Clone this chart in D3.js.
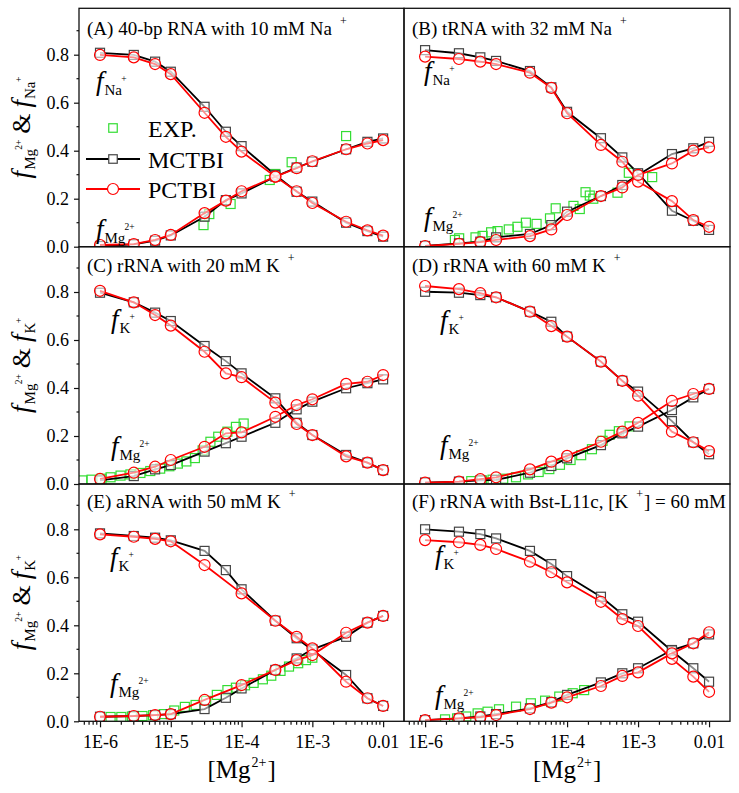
<!DOCTYPE html>
<html><head><meta charset="utf-8">
<script src="https://cdn.jsdelivr.net/npm/d3@7"></script>
<style>
body{margin:0;background:#fff}
svg{display:block}
text{font-family:"Liberation Serif","Times New Roman",serif;fill:#000}
</style>
</head><body>
<svg id="chart" width="739" height="793"></svg>
<script>
// ---------- DATA ----------
const concentrations = [1e-6, 3e-6, 6e-6, 1e-5, 3e-5, 6e-5, 1e-4, 3e-4, 6e-4, 1e-3, 3e-3, 6e-3, 1e-2];
const xTickValues = [1e-6, 1e-5, 1e-4, 1e-3, 1e-2];
const xTickLabels = ["1E-6", "1E-5", "1E-4", "1E-3", "0.01"];
const yTickValues = [0, 0.2, 0.4, 0.6, 0.8];
const yTickLabels = ["0.0", "0.2", "0.4", "0.6", "0.8"];
const seriesNames = ["EXP.", "MCTBI", "PCTBI"];

// (A) 40-bp RNA, 10 mM Na+
const aMonoMCTBI = [0.808,0.799,0.771,0.729,0.583,0.479,0.419,0.299,0.229,0.188,0.100,0.065,0.042];
const aMonoPCTBI = [0.799,0.789,0.761,0.719,0.558,0.458,0.396,0.292,0.231,0.182,0.104,0.068,0.046];
const aMgMCTBI   = [0.003,0.010,0.025,0.047,0.125,0.194,0.222,0.292,0.330,0.354,0.406,0.437,0.451];
const aMgPCTBI   = [0.007,0.011,0.028,0.049,0.140,0.192,0.231,0.292,0.327,0.356,0.406,0.430,0.444];
const aExpX = [2.9e-5,3.5e-5,7e-5,2.5e-4,3e-4,5.1e-4,3e-3];
const aExpY = [0.090,0.136,0.178,0.278,0.303,0.352,0.461];

// (B) tRNA, 32 mM Na+
const bMonoMCTBI = [0.819,0.806,0.789,0.774,0.732,0.664,0.562,0.452,0.372,0.306,0.150,0.108,0.070];
const bMonoPCTBI = [0.792,0.782,0.771,0.761,0.725,0.662,0.556,0.424,0.354,0.271,0.190,0.111,0.083];
const bMgMCTBI   = [0.003,0.014,0.021,0.039,0.053,0.090,0.146,0.211,0.257,0.299,0.386,0.410,0.437];
const bMgPCTBI   = [0.003,0.012,0.019,0.028,0.044,0.072,0.132,0.211,0.247,0.299,0.347,0.400,0.414];
const bExpX = [2.63e-6,3.02e-6,5.13e-6,6.46e-6,8.51e-6,1.05e-5,1.51e-5,2.0e-5,2.63e-5,3.72e-5,5.75e-5,6.92e-5,1.23e-4,1.51e-4,1.82e-4,2.09e-4,2.34e-4,5.13e-4,7.41e-4,1.58e-3];
const bExpY = [0.028,0.035,0.039,0.045,0.060,0.065,0.072,0.083,0.100,0.095,0.118,0.160,0.170,0.157,0.227,0.213,0.200,0.225,0.308,0.290];

// (C) rRNA, 20 mM K+
const cMonoMCTBI = [0.797,0.757,0.714,0.679,0.575,0.512,0.461,0.357,0.255,0.204,0.121,0.089,0.058];
const cMonoPCTBI = [0.805,0.757,0.704,0.660,0.551,0.461,0.445,0.339,0.250,0.204,0.115,0.089,0.058];
const cMgMCTBI   = [0.015,0.033,0.061,0.079,0.135,0.170,0.197,0.255,0.311,0.343,0.399,0.420,0.436];
const cMgPCTBI   = [0.021,0.047,0.072,0.100,0.155,0.211,0.215,0.280,0.329,0.353,0.417,0.426,0.454];
const cExpX = [5.62e-7,7.59e-7,1.05e-6,1.41e-6,1.95e-6,2.69e-6,3.72e-6,5.13e-6,7.08e-6,9.55e-6,1.26e-5,1.66e-5,2.19e-5,2.82e-5,3.63e-5,4.68e-5,6.31e-5,8.32e-5,1.07e-4];
const cExpY = [0.015,0.018,0.022,0.028,0.035,0.040,0.046,0.054,0.064,0.074,0.085,0.094,0.108,0.140,0.176,0.197,0.218,0.238,0.252];

// (D) rRNA, 60 mM K+
const dMonoMCTBI = [0.801,0.797,0.787,0.778,0.718,0.676,0.614,0.510,0.430,0.385,0.262,0.174,0.124];
const dMonoPCTBI = [0.825,0.812,0.795,0.778,0.718,0.658,0.614,0.510,0.430,0.368,0.218,0.174,0.137];
const dMgMCTBI   = [0.006,0.010,0.015,0.017,0.047,0.075,0.107,0.162,0.211,0.239,0.308,0.361,0.396];
const dMgPCTBI   = [0.006,0.010,0.020,0.028,0.061,0.093,0.117,0.176,0.218,0.255,0.346,0.375,0.396];
const dExpX = [4.47e-6,6.31e-6,8.91e-6,1.26e-5,1.91e-5,2.82e-5,3.98e-5,5.62e-5,7.94e-5,1.12e-4,1.58e-4,2.24e-4,3.16e-4,3.98e-4,5.37e-4,7.59e-4];
const dExpY = [0.012,0.015,0.018,0.022,0.028,0.040,0.050,0.062,0.080,0.100,0.120,0.145,0.180,0.205,0.220,0.240];

// (E) aRNA, 50 mM K+
const eMonoMCTBI = [0.783,0.772,0.765,0.754,0.710,0.630,0.550,0.419,0.346,0.297,0.193,0.096,0.064];
const eMonoPCTBI = [0.779,0.769,0.760,0.750,0.651,null,0.533,0.419,0.352,0.304,0.165,0.096,0.064];
const eMgMCTBI   = [0.019,0.022,0.026,0.030,0.051,0.098,0.137,0.214,0.262,0.300,0.352,0.411,0.439];
const eMgPCTBI   = [0.019,0.022,0.026,0.030,0.089,null,0.151,0.214,0.255,0.276,0.369,0.411,0.439];
const eExpX = [1.41e-6,2.0e-6,2.82e-6,3.98e-6,5.62e-6,7.94e-6,1.12e-5,1.58e-5,2.24e-5,3.16e-5,4.47e-5,6.31e-5,8.32e-5,1.12e-4,1.48e-4,2.0e-4,2.63e-4,3.55e-4,4.68e-4,6.31e-4,8.13e-4,1.0e-3];
const eExpY = [0.018,0.018,0.020,0.022,0.025,0.030,0.045,0.060,0.068,0.085,0.110,0.130,0.140,0.150,0.160,0.175,0.190,0.210,0.228,0.242,0.255,0.265];

// (F) rRNA with Bst-L11c, 60 mM K+
const fMonoMCTBI = [0.800,0.790,0.780,0.762,0.710,0.655,0.605,0.519,0.446,0.415,0.293,0.221,0.165];
const fMonoPCTBI = [0.755,0.746,0.735,0.718,0.665,0.621,0.579,0.498,0.426,0.397,0.260,0.186,0.123];
const fMgMCTBI   = [0.005,0.012,0.020,0.030,0.054,0.080,0.110,0.162,0.200,0.221,0.297,0.325,0.362];
const fMgPCTBI   = [0.005,0.012,0.017,0.026,0.051,0.078,0.100,0.147,0.189,0.204,0.283,0.325,0.371];
const fExpX = [1.91e-6,2.82e-6,3.8e-6,5.5e-6,7.59e-6,1.1e-5,1.91e-5,3.09e-5,4.9e-5,7.76e-5,1.2e-4,1.74e-4];
const fExpY = [0.008,0.012,0.020,0.033,0.040,0.050,0.061,0.075,0.086,0.103,0.117,0.130];

// ---------- LAYOUT ----------
const colX = [[79, 404], [404, 730]];
const rowY = [[8.3, 246.7], [246.7, 484], [484, 721.3]];
const pxPerUnit = 240;
const xDomain = [Math.pow(10, -6.297), Math.pow(10, -1.705)];

const panels = [
  {col:0,row:0,title:["(A) 40-bp RNA with 10 mM Na","+",""],ion:"Na",
   mM:aMonoMCTBI,mP:aMonoPCTBI,gM:aMgMCTBI,gP:aMgPCTBI,ex:aExpX,ey:aExpY,
   monoLab:[96,90],mgLab:[96,238],legend:true},
  {col:1,row:0,title:["(B) tRNA with 32 mM Na","+",""],ion:"Na",
   mM:bMonoMCTBI,mP:bMonoPCTBI,gM:bMgMCTBI,gP:bMgPCTBI,ex:bExpX,ey:bExpY,
   monoLab:[424,80],mgLab:[424,226]},
  {col:0,row:1,title:["(C) rRNA with 20 mM K","+",""],ion:"K",
   mM:cMonoMCTBI,mP:cMonoPCTBI,gM:cMgMCTBI,gP:cMgPCTBI,ex:cExpX,ey:cExpY,
   monoLab:[111,328],mgLab:[111,455]},
  {col:1,row:1,title:["(D) rRNA with 60 mM K","+",""],ion:"K",
   mM:dMonoMCTBI,mP:dMonoPCTBI,gM:dMgMCTBI,gP:dMgPCTBI,ex:dExpX,ey:dExpY,
   monoLab:[440,329],mgLab:[440,454]},
  {col:0,row:2,title:["(E) aRNA with 50 mM K","+",""],ion:"K",
   mM:eMonoMCTBI,mP:eMonoPCTBI,gM:eMgMCTBI,gP:eMgPCTBI,ex:eExpX,ey:eExpY,
   monoLab:[110,566],mgLab:[110,692]},
  {col:1,row:2,title:["(F) rRNA with Bst-L11c, [K","+","] = 60 mM"],ion:"K",
   mM:fMonoMCTBI,mP:fMonoPCTBI,gM:fMgMCTBI,gP:fMgPCTBI,ex:fExpX,ey:fExpY,
   monoLab:[435,564],mgLab:[435,704]}
];

const svg = d3.select("#chart");
const titleBase = [34.5, 272, 507.5];
const COL_BLACK = "#000", COL_SQ = "#444", COL_RED = "#ff0000", COL_GREEN = "#33dd33";

// rich text made of separately positioned pieces
function richText(g, x, y, parts, anchor) {
  const grp = g.append("g");
  let cx = 0;
  parts.forEach(p => {
    cx += (p.gap || 0);
    const t = grp.append("text").attr("x", cx).attr("y", p.dy || 0)
      .style("font-size", p.size + "px").style("font-style", p.italic ? "italic" : "normal")
      .text(p.t);
    cx += t.node().getComputedTextLength();
  });
  const shift = anchor === "middle" ? -cx / 2 : 0;
  grp.attr("transform", `translate(${x + shift},${y})`);
  return grp;
}

function fLabel(g, x, y, sub, sup) {
  richText(g, x, y, [
    {t: "f", size: 27, italic: true},
    {t: sub, size: 15, dy: 5, gap: 1},
    {t: sup, size: 9.5, dy: -8, gap: -0.8}
  ]);
}

function drawSquare(sel, x, y, s, stroke, fill) {
  sel.append("rect").attr("x", x - s/2).attr("y", y - s/2).attr("width", s).attr("height", s)
    .attr("fill", fill).attr("stroke", stroke).attr("stroke-width", 1.2);
}

panels.forEach((p, pi) => {
  const [x0, x1] = colX[p.col];
  const [y0, y1] = rowY[p.row];
  const x = d3.scaleLog().domain(xDomain).range([x0, x1]);
  const y = d3.scaleLinear().domain([0, (y1 - y0) / pxPerUnit]).range([y1, y0]);
  const g = svg.append("g");

  const clipId = "clip" + pi;
  svg.append("clipPath").attr("id", clipId).append("rect")
    .attr("x", x0).attr("y", y0).attr("width", x1 - x0).attr("height", y1 - y0);
  const plot = g.append("g").attr("clip-path", `url(#${clipId})`);

  // EXP
  const exp = p.ex.map((v, i) => [v, p.ey[i]]);
  plot.append("g").selectAll("rect").data(exp).join("rect")
    .attr("x", d => x(d[0]) - 4.5).attr("y", d => y(d[1]) - 4.5)
    .attr("width", 9).attr("height", 9)
    .attr("fill", "none").attr("stroke", COL_GREEN).attr("stroke-width", 1.2);

  const line = d3.line().x(d => x(d[0])).y(d => y(d[1]));
  const mk = arr => concentrations.map((c, i) => [c, arr[i]]).filter(d => d[1] != null);

  // MCTBI (black, squares)
  [p.mM, p.gM].forEach(arr => {
    plot.append("path").attr("d", line(mk(arr)))
      .attr("fill", "none").attr("stroke", COL_BLACK).attr("stroke-width", 1.8);
  });
  [p.mM, p.gM].forEach(arr => {
    plot.append("g").selectAll("rect").data(mk(arr)).join("rect")
      .attr("x", d => x(d[0]) - 4.5).attr("y", d => y(d[1]) - 4.5)
      .attr("width", 9).attr("height", 9)
      .attr("fill", "rgba(255,255,255,0.55)").attr("stroke", COL_SQ).attr("stroke-width", 1.2);
  });
  // PCTBI (red, circles)
  [p.mP, p.gP].forEach(arr => {
    plot.append("path").attr("d", line(mk(arr)))
      .attr("fill", "none").attr("stroke", COL_RED).attr("stroke-width", 1.8);
  });
  [p.mP, p.gP].forEach(arr => {
    plot.append("g").selectAll("circle").data(mk(arr)).join("circle")
      .attr("cx", d => x(d[0])).attr("cy", d => y(d[1])).attr("r", 5.5)
      .attr("fill", "rgba(255,255,255,0.55)").attr("stroke", COL_RED).attr("stroke-width", 1.2);
  });

  // frame
  g.append("rect").attr("x", x0).attr("y", y0).attr("width", x1 - x0).attr("height", y1 - y0)
    .attr("fill", "none").attr("stroke", "#111").attr("stroke-width", 1.3);

  // title
  const tparts = [{t: p.title[0], size: 19}, {t: p.title[1], size: 12, dy: -10, gap: 8}];
  if (p.title[2]) tparts.push({t: p.title[2], size: 19, gap: 1});
  richText(g, x0 + 8, titleBase[p.row], tparts);

  // in-plot labels
  fLabel(g, p.monoLab[0], p.monoLab[1], p.ion, "+");
  fLabel(g, p.mgLab[0], p.mgLab[1], "Mg", "2+");

  // y axis (left column)
  if (p.col === 0) {
    const minorY = [0.1, 0.3, 0.5, 0.7, 0.9];
    const ax = g.append("g").attr("transform", `translate(${x0},0)`)
      .call(d3.axisLeft(y).tickValues(yTickValues).tickFormat((d, i) => yTickLabels[i]).tickSize(5).tickSizeOuter(0).tickPadding(5));
    ax.attr("font-family", null).attr("font-size", null);
    ax.select(".domain").remove();
    ax.selectAll(".tick line").attr("stroke", "#111").attr("stroke-width", 1.2);
    ax.selectAll(".tick text").style("font-size", "18px").attr("fill", "#000");
    g.append("g").selectAll("line").data(minorY).join("line")
      .attr("x1", x0 - 2.5).attr("x2", x0).attr("y1", d => y(d)).attr("y2", d => y(d))
      .attr("stroke", "#111").attr("stroke-width", 1.2);
    // y title (rotated)
    const cy = (y0 + y1) / 2;
    const yg = g.append("g").attr("transform", `translate(30,${cy}) rotate(-90)`);
    richText(yg, 0, 0, [
      {t: "f", size: 27, italic: true},
      {t: "Mg", size: 15, dy: 5, gap: 1},
      {t: "2+", size: 9.5, dy: -8, gap: -0.8},
      {t: "&", size: 26, gap: 6},
      {t: "f", size: 27, italic: true, gap: 6},
      {t: p.ion, size: 15, dy: 5, gap: 1},
      {t: "+", size: 9.5, dy: -8, gap: -0.5}
    ], "middle");
  }

  // x axis (bottom row)
  if (p.row === 2) {
    const minorX = [];
    for (let e = -7; e <= -2; e++) for (let m = 2; m <= 9; m++) {
      const v = m * Math.pow(10, e);
      if (v >= xDomain[0] && v <= xDomain[1]) minorX.push(v);
    }
    const ax = g.append("g").attr("transform", `translate(0,${y1})`)
      .call(d3.axisBottom(x).tickValues(xTickValues).tickFormat((d, i) => xTickLabels[i]).tickSize(6).tickSizeOuter(0).tickPadding(8));
    ax.attr("font-family", null).attr("font-size", null);
    ax.select(".domain").remove();
    ax.selectAll(".tick line").attr("stroke", "#111").attr("stroke-width", 1.2);
    ax.selectAll(".tick text").style("font-size", "18px").attr("fill", "#000");
    g.append("g").selectAll("line").data(minorX).join("line")
      .attr("x1", d => x(d)).attr("x2", d => x(d)).attr("y1", y1).attr("y2", y1 + 3.5)
      .attr("stroke", "#111").attr("stroke-width", 1.2);
    richText(g, x(1e-4), 778, [
      {t: "[Mg", size: 25},
      {t: "2+", size: 14, dy: -11, gap: 1},
      {t: "]", size: 25, gap: 1}
    ], "middle");
  }

  // legend (panel A)
  if (p.legend) {
    const lx0 = 86, lx1 = 140, lm = 113, tx = 148;
    const rows = [128, 159, 189];
    const lg = g.append("g");
    drawSquare(lg, lm, rows[0], 8.5, COL_GREEN, "none");
    lg.append("line").attr("x1", lx0).attr("x2", lx1).attr("y1", rows[1]).attr("y2", rows[1])
      .attr("stroke", COL_BLACK).attr("stroke-width", 1.8);
    drawSquare(lg, lm, rows[1], 8.5, COL_SQ, "#fff");
    lg.append("line").attr("x1", lx0).attr("x2", lx1).attr("y1", rows[2]).attr("y2", rows[2])
      .attr("stroke", COL_RED).attr("stroke-width", 1.8);
    lg.append("circle").attr("cx", lm).attr("cy", rows[2]).attr("r", 5.5)
      .attr("fill", "#fff").attr("stroke", COL_RED).attr("stroke-width", 1.2);
    seriesNames.forEach((n, i) => {
      lg.append("text").attr("x", tx).attr("y", rows[i] + 8.5).style("font-size", "24px").text(n);
    });
  }
});
</script>
</body></html>
